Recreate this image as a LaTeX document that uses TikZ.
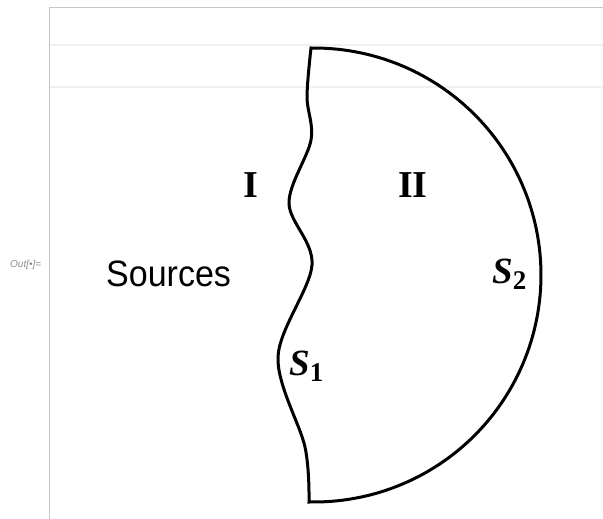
\documentclass[tikz,border=0pt]{standalone}
\usepackage{fontspec}
\setmainfont{Liberation Serif}
\newfontfamily\labsans{Liberation Sans}
\begin{document}
\begin{tikzpicture}[x=1pt,y=-1pt,
  frameline/.style={draw=black!22,line width=1pt},
  faintline/.style={draw=black!6,line width=1.5pt},
  boundary/.style={draw=black,line width=3pt,line join=miter},
  roman/.style={font=\fontsize{38}{38}\selectfont\bfseries,inner sep=0pt},
  surf/.style={font=\fontsize{37}{37}\selectfont\bfseries\itshape,inner sep=0pt},
  srcstyle/.style={font=\labsans\fontsize{34}{34}\selectfont,inner sep=0pt,yscale=1.08},
  outlab/.style={font=\labsans\itshape\fontsize{10}{10}\selectfont,text=black!45,inner sep=0pt}]
\useasboundingbox (0,0) rectangle (603,519);
\fill[white] (0,0) rectangle (603,519);
% notebook frame
\draw[faintline] (49,45) -- (603,45);
\draw[faintline] (49,87) -- (603,87);
\draw[frameline] (49,8) -- (603,8);
\draw[frameline] (49,8) -- (49,519);
\node[outlab,anchor=west] (out) at (10,265) {Out[\textbullet]=};
% region boundary
\draw[boundary]
  plot[smooth,tension=0.55] coordinates {(311,48) (307,97) (311,140) (289,203) (312,265) (278,357) (305,447) (309,502)}
  -- plot[domain=90.3:-90.3,samples=120,variable=\t] ({314+227*cos(\t)},{275+227*sin(\t)})
  -- cycle;
% labels
\node[roman,anchor=base] (one) at (251,197) {I};
\node[roman,anchor=base] (two) at (413,197) {II};
\node[srcstyle,anchor=base west] (src) at (106,286) {Sources};
\node[surf,anchor=base west] (s1) at (289,375) {S\raisebox{-6pt}{\fontsize{27}{27}\selectfont\bfseries\upshape 1}};
\node[surf,anchor=base west] (s2) at (492,283) {S\raisebox{-6pt}{\fontsize{27}{27}\selectfont\bfseries\upshape 2}};
\end{tikzpicture}
\end{document}
